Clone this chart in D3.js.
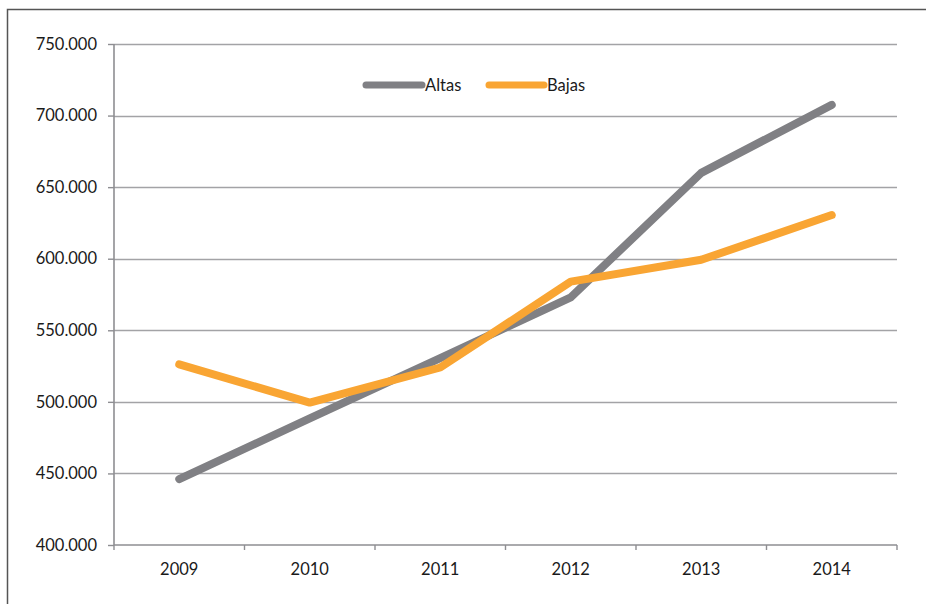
<!DOCTYPE html>
<html><head><meta charset="utf-8">
<script src="https://cdn.jsdelivr.net/npm/d3@7"></script>
<style>body{margin:0;background:#fff}svg{display:block}text{font-family:Lato,"Open Sans",sans-serif;fill:#1a1a1a}</style>
</head><body><svg id="c" width="926" height="604"></svg>
<script>
const years = ["2009","2010","2011","2012","2013","2014"];
const altas = [446000, 488500, 530500, 573000, 660000, 707500];
const bajas = [526200, 499500, 524000, 584000, 599300, 630500];
const yTicks = [400000,450000,500000,550000,600000,650000,700000,750000];
const seriesNames = ["Altas","Bajas"];
const colors = ["#808084","#F9A533"];

const svg = d3.select("#c");
const FS = 16.5;
// outer frame
svg.append("path").attr("d","M7.5,604 V9.5 H926").attr("fill","none").attr("stroke","#555").attr("stroke-width",1.5);

const L=114, R=897, T=44, B=545;
const x = d3.scaleBand().domain(years).range([L,R]);
const y = d3.scaleLinear().domain([400000,750000]).range([B,T]);

// gridlines
svg.append("g").selectAll("line").data(yTicks.slice(1)).join("line")
  .attr("x1",L).attr("x2",R).attr("y1",d=>Math.round(y(d))+0.5).attr("y2",d=>Math.round(y(d))+0.5)
  .attr("stroke","#a3a3a6").attr("stroke-width",1.6);

// y axis
const ya = svg.append("g").attr("transform",`translate(${L},0)`)
  .call(d3.axisLeft(y).tickValues(yTicks).tickSize(6).tickPadding(11).tickFormat(d=>d3.format(".3f")(d/1000)));
ya.select(".domain").attr("stroke","#8e8e92").attr("stroke-width",1.6).attr("d",`M0,${T}V${B}`);
ya.selectAll(".tick line").attr("stroke","#8e8e92").attr("stroke-width",1.4);
ya.selectAll(".tick text").attr("font-size",FS).attr("fill","#1a1a1a").attr("font-family","Lato");

// x axis
const xa = svg.append("g").attr("transform",`translate(0,${B})`)
  .call(d3.axisBottom(x).tickSize(0).tickPadding(18));
xa.select(".domain").attr("stroke","#8e8e92").attr("stroke-width",1.6).attr("d",`M${L},0H${R}`);
xa.selectAll(".tick text").attr("font-size",FS).attr("fill","#1a1a1a").attr("font-family","Lato");
// boundary ticks
const bounds = years.map(d=>x(d)).concat([R]);
svg.append("g").selectAll("line").data(bounds).join("line")
  .attr("x1",d=>d).attr("x2",d=>d).attr("y1",B).attr("y2",B+5)
  .attr("stroke","#8e8e92").attr("stroke-width",1.4);

// lines
const line = d3.line().x((d,i)=>x(years[i])+x.bandwidth()/2).y(d=>y(d));
[altas,bajas].forEach((s,k)=>{
  svg.append("path").attr("d",line(s)).attr("fill","none").attr("stroke",colors[k])
    .attr("stroke-width",8).attr("stroke-linecap","round").attr("stroke-linejoin","round");
});

// legend
const lg = [{x1:366,x2:422,tx:425},{x1:489,x2:544,tx:547}];
seriesNames.forEach((n,k)=>{
  svg.append("line").attr("x1",lg[k].x1).attr("x2",lg[k].x2).attr("y1",85).attr("y2",85)
    .attr("stroke",colors[k]).attr("stroke-width",7).attr("stroke-linecap","round");
  svg.append("text").attr("x",lg[k].tx).attr("y",85).attr("dy","0.35em").attr("font-size",FS).text(n);
});
</script></body></html>
